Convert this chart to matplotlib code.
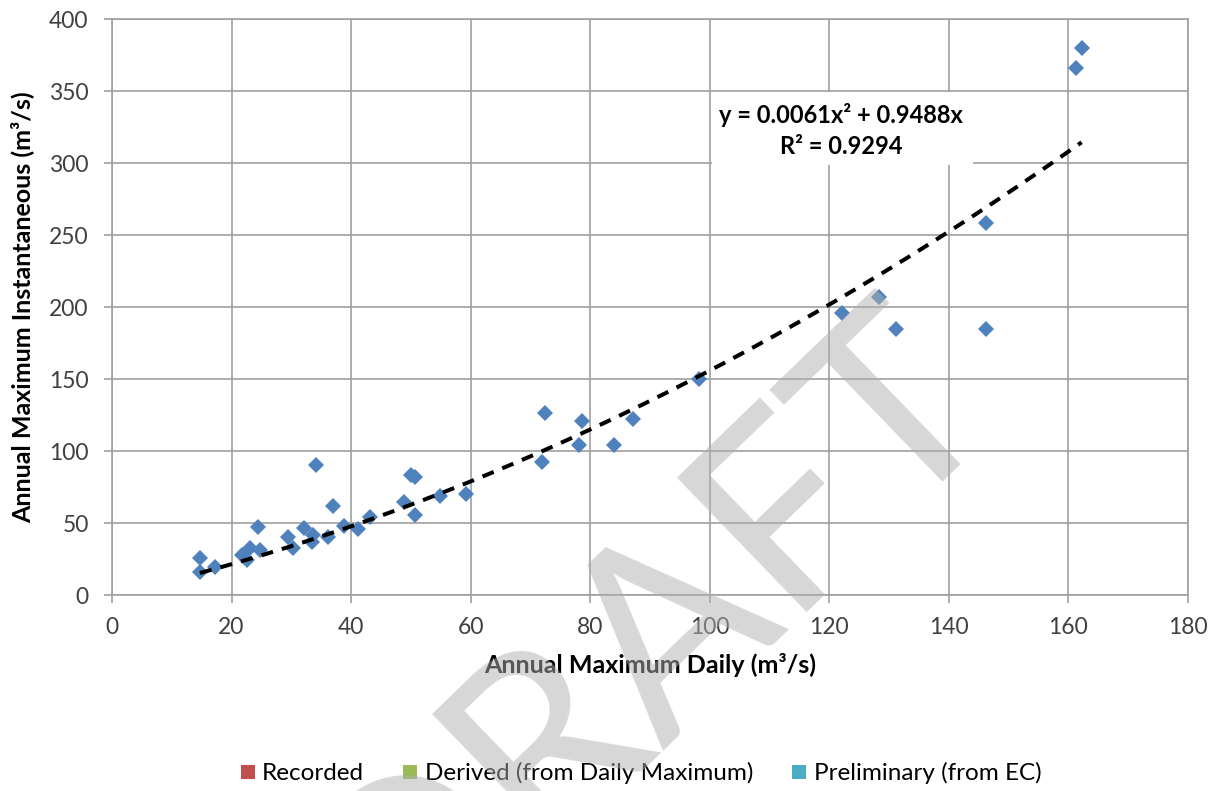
import numpy as np
import matplotlib
matplotlib.use("Agg")
import matplotlib.pyplot as plt
from matplotlib.lines import Line2D
from matplotlib.patches import Rectangle

# ---- data ----
x_daily = [14.7, 14.8, 17.2, 21.7, 22.5, 23.1, 24.5, 24.8, 29.5, 30.3,
           32.1, 33.4, 33.7, 34.1, 36.2, 37.0, 38.8, 41.2, 43.2, 48.8,
           50.1, 50.7, 50.7, 54.9, 59.2, 71.9, 72.5, 78.1, 78.6, 83.9,
           87.1, 98.2, 122.2, 128.3, 131.1, 146.2, 146.2, 161.2, 162.2]
y_inst = [25.5, 16.2, 19.7, 27.8, 24.3, 32.4, 47.4, 31.3, 40.5, 32.4,
          46.3, 37.0, 41.7, 90.3, 40.5, 61.8, 47.9, 45.6, 54.0, 64.8,
          83.3, 81.7, 55.6, 68.8, 70.1, 92.6, 126.2, 104.2, 120.8, 104.2,
          122.2, 149.8, 195.6, 207.2, 184.7, 258.5, 184.7, 366.2, 379.6]

trend_a = 0.0061   # coefficient of x^2
trend_b = 0.9488   # coefficient of x
r_squared = 0.9294

x_ticks = [0, 20, 40, 60, 80, 100, 120, 140, 160, 180]
y_ticks = [0, 50, 100, 150, 200, 250, 300, 350, 400]

legend_labels = ["Recorded", "Derived (from Daily Maximum)", "Preliminary (from EC)"]
legend_colors = ["#c0504d", "#9bbb59", "#4bacc6"]

# ---- style ----
FONT = ["Lato", "DejaVu Sans"]
plt.rcParams["font.family"] = FONT
grid_c = "#a0a0a0"
text_c = "#404040"

W, H = 1215, 791
fig = plt.figure(figsize=(W / 100, H / 100), dpi=100)
ax = fig.add_axes([112 / W, 1 - 595 / H, 1076 / W, 576 / H])

ax.set_xlim(x_ticks[0], x_ticks[-1])
ax.set_ylim(y_ticks[0], y_ticks[-1])
ax.set_xticks(x_ticks)
ax.set_yticks(y_ticks)
ax.grid(True, color=grid_c, linewidth=1.2)
ax.set_axisbelow(True)
for s in ax.spines.values():
    s.set_color(grid_c)
    s.set_linewidth(1.2)
ax.tick_params(axis="both", direction="out", length=5.8, width=1.2, color=grid_c,
               labelsize=16.5, labelcolor=text_c)
ax.tick_params(axis="x", pad=10)
ax.tick_params(axis="y", pad=11)

# data points
ax.plot(x_daily, y_inst, linestyle="none", marker="D", markersize=8.3,
        color="#4f81bd", markeredgewidth=0, zorder=3)

# polynomial trendline over the range of the data
xt = np.linspace(min(x_daily), max(x_daily), 200)
yt = trend_a * xt ** 2 + trend_b * xt
ax.plot(xt, yt, color="black", linestyle=(0, (3.0, 2.3)), linewidth=2.9, zorder=4)

# equation label with white box
ax.add_patch(Rectangle((100.3, 298.8), 43.8, 50.8, facecolor="white",
                       edgecolor="none", zorder=2))
ax.text(122, 333.5, "y = 0.0061x² + 0.9488x", ha="center", va="center",
        fontsize=17, fontweight="bold", color="black", zorder=5)
ax.text(122, 311.5, "R² = 0.9294", ha="center", va="center",
        fontsize=17, fontweight="bold", color="black", zorder=5)

ax.set_xlabel("Annual Maximum Daily (m³/s)", fontsize=18, fontweight="bold",
              color="black", labelpad=11)
ax.set_ylabel("Annual Maximum Instantaneous (m³/s)", fontsize=18,
              fontweight="bold", color="black", labelpad=11)

# legend (series names only)
handles = [Line2D([], [], linestyle="none", marker="s", markersize=10.5,
                  color=c, markeredgewidth=0) for c in legend_colors]
fig.legend(handles, legend_labels, loc="center", ncol=3, frameon=False,
           bbox_to_anchor=(641 / W, 1 - 773 / H), fontsize=17.5,
           handlelength=0.6, handletextpad=0.3, columnspacing=1.6,
           labelcolor="black")

# DRAFT watermark
fig.text(1000 / W, 1 - 402 / H, "DRAFT", rotation=44, rotation_mode="anchor",
         ha="right", va="baseline", fontsize=188, color="#b0b0b0", alpha=0.5,
         zorder=20)

fig.savefig("out.png", dpi=100)
